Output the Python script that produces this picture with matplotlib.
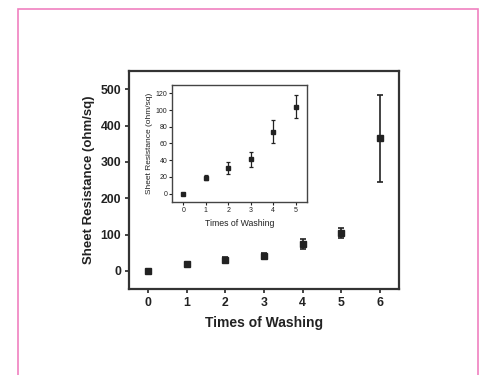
import numpy as np
import matplotlib.pyplot as plt
from matplotlib import rcParams
from matplotlib.patches import Rectangle

rcParams['font.family'] = 'sans-serif'
rcParams['font.sans-serif'] = ['Liberation Sans']
rcParams['xtick.direction'] = 'out'
rcParams['ytick.direction'] = 'out'

# main data
washes = [0, 1, 2, 3, 4, 5, 6]
resistance = [0, 19, 31, 41, 74, 104, 365]
res_err = [2, 3, 7, 9, 14, 14, 120]

# inset data (first five washes)
washes_in = [0, 1, 2, 3, 4, 5]
resistance_in = [0, 19, 31, 41, 74, 104]
res_err_in = [1, 3, 7, 9, 14, 14]

dark = '#222222'

fig = plt.figure(figsize=(4.91, 3.75), dpi=100)

# pink frame around the figure
fig.patches.append(Rectangle((18 / 491, -0.02), 460 / 491, 1 - 9 / 375 + 0.02,
                             transform=fig.transFigure, fill=False,
                             edgecolor='#f080c0', linewidth=1.2))

ax = fig.add_axes([129 / 491, 1 - 289 / 375, 270 / 491, 218 / 375])
ax.errorbar(washes, resistance, yerr=res_err, fmt='s', color=dark,
            markersize=4, capsize=2.5, elinewidth=1.2, capthick=1.2)
ax.set_xlim(-0.5, 6.5)
ax.set_ylim(-50, 550)
ax.set_xticks(washes)
ax.set_yticks([0, 100, 200, 300, 400, 500])
ax.tick_params(axis='both', which='both', top=False, right=False, length=3,
               width=1.2, colors=dark, labelsize=8.8, pad=2.5)
for lab in ax.get_xticklabels() + ax.get_yticklabels():
    lab.set_fontweight('bold')
for sp in ax.spines.values():
    sp.set_linewidth(1.6)
    sp.set_color('#333333')
ax.set_xlabel('Times of Washing', fontsize=10, fontweight='bold', color=dark,
              labelpad=5)
ax.set_ylabel('Sheet Resistance (ohm/sq)', fontsize=9.5, fontweight='bold',
              color=dark, labelpad=4)

# inset
axi = fig.add_axes([172 / 491, 1 - 202 / 375, 135 / 491, 117 / 375])
axi.errorbar(washes_in, resistance_in, yerr=res_err_in, fmt='s', color=dark,
             markersize=2.3, capsize=1.5, elinewidth=0.9, capthick=0.9)
axi.set_xlim(-0.5, 5.5)
axi.set_ylim(-10, 130)
axi.set_xticks(washes_in)
axi.set_yticks([0, 20, 40, 60, 80, 100, 120])
axi.tick_params(axis='both', which='both', top=False, right=False, length=2,
                width=0.8, colors=dark, labelsize=5, pad=1.5)
for sp in axi.spines.values():
    sp.set_linewidth(1.0)
    sp.set_color('#444444')
axi.set_xlabel('Times of Washing', fontsize=6.3, color=dark, labelpad=4)
axi.set_ylabel('Sheet Resistance (ohm/sq)', fontsize=6, color=dark,
               labelpad=2)

plt.savefig('out.png', dpi=100)
